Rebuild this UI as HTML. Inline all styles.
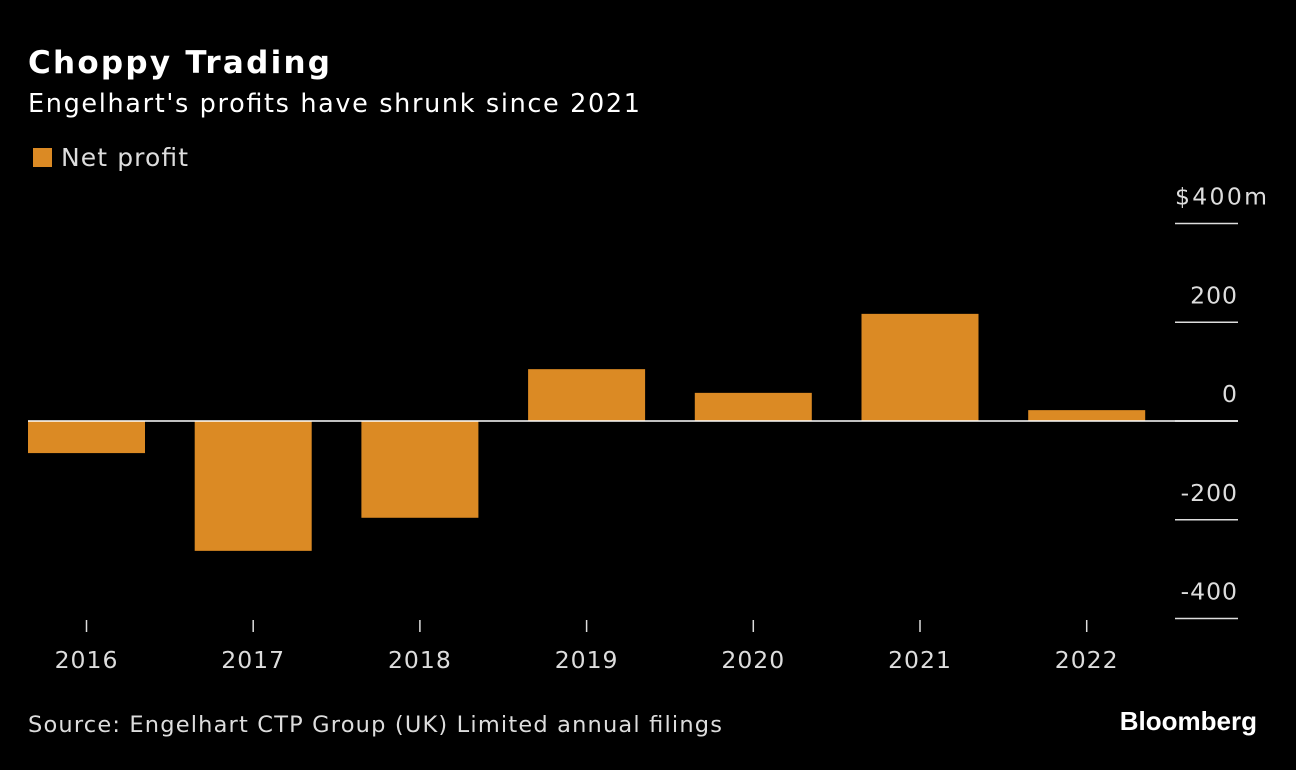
<!DOCTYPE html>
<html><head><meta charset="utf-8"><style>
body{margin:0;background:#000;width:1296px;height:766px;overflow:hidden;font-family:"DejaVu Sans","Liberation Sans",sans-serif;color:#fff}
</style></head><body>
<svg width="1296" height="766" id="chart" xmlns="http://www.w3.org/2000/svg" font-family="DejaVu Sans, Liberation Sans, sans-serif">
<text x="28" y="73" font-size="31" font-weight="bold" fill="#fff" textLength="302" lengthAdjust="spacing">Choppy Trading</text>
<text x="28" y="112" font-size="25.5" fill="#fff" textLength="612" lengthAdjust="spacing">Engelhart's profits have shrunk since 2021</text>
<rect x="33" y="148" width="19" height="19" fill="#db8a24"/>
<text x="61" y="166" font-size="25" fill="#ddd" textLength="127" lengthAdjust="spacing">Net profit</text>
<g id="grid"></g><g id="bars"></g><g id="xaxis"></g>
<text x="28" y="732" font-size="22.5" fill="#ddd" textLength="694" lengthAdjust="spacing">Source: Engelhart CTP Group (UK) Limited annual filings</text>
<text x="1257" y="730" font-size="26" font-weight="bold" fill="#fff" text-anchor="end" font-family="Liberation Sans, sans-serif">Bloomberg</text>
</svg>
<script>
const categories=["2016","2017","2018","2019","2020","2021","2022"];
const netProfit=[-65,-263,-196,105,57,217,22];
const yTicks=[400,200,0,-200,-400];
const yTickLabels=["$400m","200","0","-200","-400"];
const NS="http://www.w3.org/2000/svg";
function y(v){return 421-v*(98.75/200);}
function x(i){return 28+i*166.7;}
const bw=117;
function mk(t,a,p){const e=document.createElementNS(NS,t);for(const k in a)e.setAttribute(k,a[k]);p.appendChild(e);return e;}
const grid=document.getElementById('grid'),bars=document.getElementById('bars'),xa=document.getElementById('xaxis');
yTicks.forEach((v,i)=>{
 const l=mk('line',{x1:1175,x2:1238,y1:y(v),y2:y(v),stroke:'#ddd','stroke-width':1.5},grid);
 
 
 const first=i===0;
 const attrs={x:first?1175:1238,y:y(v)-19,'font-size':23.5,fill:'#ddd','text-anchor':first?'start':'end','letter-spacing':1};
 if(first){attrs.textLength=93;attrs.lengthAdjust='spacing';}
 const t=mk('text',attrs,grid);
 t.textContent=yTickLabels[i];
 
 
});
netProfit.forEach((v,i)=>{
 const r=mk('rect',{x:x(i),y:Math.min(y(v),y(0)),width:bw,height:Math.abs(y(v)-y(0)),fill:'#db8a24'},bars);
 
 
 const cx=x(i)+bw/2;
 const tk=mk('line',{x1:cx,x2:cx,y1:620,y2:632,stroke:'#ddd','stroke-width':1.5},xa);
 
 
 const t=mk('text',{x:cx,y:668,'font-size':23.5,fill:'#ddd','text-anchor':'middle','letter-spacing':1},xa);
 t.textContent=categories[i];
 
 
});
const z=mk('line',{x1:28,x2:1238,y1:y(0),y2:y(0),stroke:'#fff','stroke-width':1.5},xa);


</script>
</body></html>
